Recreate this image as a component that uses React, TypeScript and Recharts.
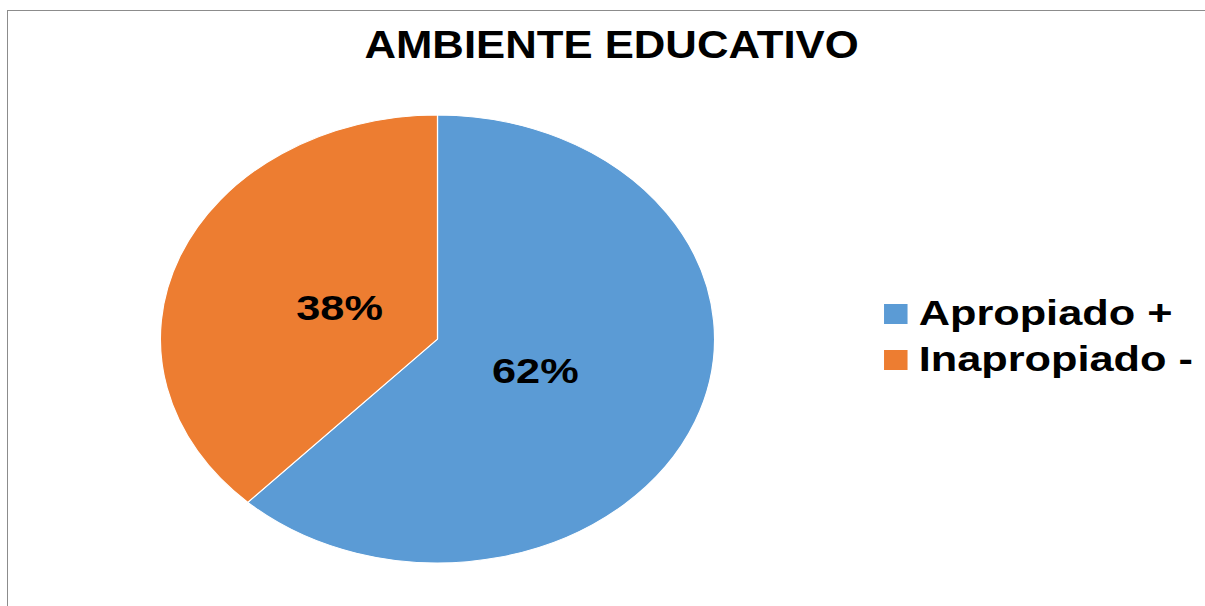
import { PieChart, Pie, Cell, Legend } from "recharts";

const CATEGORIES = ["Apropiado +", "Inapropiado -"];
const VALUES = [62, 38];
const COLORS = ["#5B9BD5", "#ED7D31"];
const TITLE = "AMBIENTE EDUCATIVO";

const data = CATEGORIES.map((name, i) => ({ name, value: VALUES[i] }));

const FONT = '"Liberation Sans", Arial, sans-serif';
// the original picture is stretched horizontally, so the chart is drawn round and scaled
const STRETCH = 1.237;
const CHART_W = 968;
const CHART_H = 596;

const RADIAN = Math.PI / 180;

function renderLabel(props: any) {
  const { cx, cy, midAngle, outerRadius, percent } = props;
  const r = outerRadius * 0.38;
  const x = cx + r * Math.cos(-midAngle * RADIAN);
  const y = cy + r * Math.sin(-midAngle * RADIAN);
  return (
    <text
      x={x}
      y={y}
      textAnchor="middle"
      dominantBaseline="central"
      fill="#000"
      fontFamily={FONT}
      fontWeight="bold"
      fontSize={35}
    >
      {Math.round(percent * 100)}%
    </text>
  );
}

function LegendContent(props: any) {
  const items = props.payload || [];
  return (
    <div>
      {items.map((p: any, i: number) => (
        <div
          key={i}
          style={{ display: "flex", alignItems: "center", height: 46 }}
        >
          <div
            style={{
              width: 19,
              height: 20,
              background: p.color || COLORS[i],
              marginRight: 9,
              marginTop: 2,
            }}
          />
          <span
            style={{
              fontFamily: FONT,
              fontWeight: "bold",
              fontSize: 35,
              color: "#000",
              lineHeight: "46px",
              whiteSpace: "nowrap",
            }}
          >
            {p.value}
          </span>
        </div>
      ))}
    </div>
  );
}

export default function App() {
  return (
    <div style={{ position: "absolute", left: 0, top: 0, width: 1205, height: 606, background: "#fff" }}>
      <div
        style={{
          position: "absolute",
          left: 7,
          top: 10,
          width: 1198,
          height: 596,
          borderTop: "1px solid #8c8c8c",
          borderLeft: "1px solid #8c8c8c",
          boxSizing: "border-box",
        }}
      />
      <div
        style={{
          position: "absolute",
          left: 0,
          top: 25,
          width: 1223,
          textAlign: "center",
          fontFamily: FONT,
          fontWeight: "bold",
          fontSize: 39,
          lineHeight: "39px",
          color: "#000",
          transform: "scaleX(1.12)",
          transformOrigin: "611px 0",
          whiteSpace: "nowrap",
        }}
      >
        {TITLE}
      </div>
      <div
        style={{
          position: "absolute",
          left: 7,
          top: 10,
          width: CHART_W,
          height: CHART_H,
          transform: `scaleX(${STRETCH})`,
          transformOrigin: "0 0",
        }}
      >
        <PieChart width={CHART_W} height={CHART_H} margin={{ top: 0, right: 0, bottom: 0, left: 0 }}>
          <Pie
            data={data}
            dataKey="value"
            nameKey="name"
            cx={348}
            cy={329}
            outerRadius={224}
            startAngle={90}
            endAngle={-270}
            stroke="#ffffff"
            strokeWidth={1}
            label={renderLabel}
            labelLine={false}
            isAnimationActive={false}
          >
            {data.map((d, i) => (
              <Cell key={d.name} fill={COLORS[i]} />
            ))}
          </Pie>
          <Legend
            layout="vertical"
            content={<LegendContent />}
            wrapperStyle={{ position: "absolute", left: 709, top: 280, width: 260 }}
          />
        </PieChart>
      </div>
    </div>
  );
}
